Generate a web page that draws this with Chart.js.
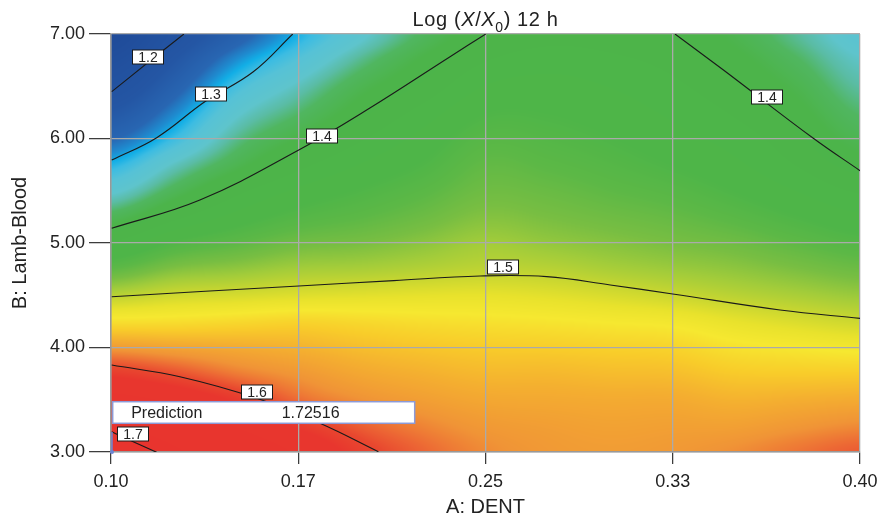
<!DOCTYPE html>
<html>
<head>
<meta charset="utf-8">
<script src="https://cdn.jsdelivr.net/npm/chart.js@4.4.1/dist/chart.umd.min.js"></script>
<style>
  html, body { margin: 0; padding: 0; background: #fff; }
  #wrap { width: 882px; height: 521px; }
</style>
</head>
<body>
<div id="wrap"><canvas id="contour"></canvas></div>
<script>
const FONT = "'Liberation Sans', Arial, Helvetica, sans-serif";

// Response grid (rows top to bottom, B = 7.00 ... 3.00)
const gridX = [0.10, 0.125, 0.15, 0.175, 0.20, 0.225, 0.25, 0.275, 0.30, 0.325, 0.35, 0.375, 0.40];
const gridY = [7.0, 6.75, 6.5, 6.25, 6.0, 5.75, 5.5, 5.25, 5.0, 4.75, 4.5, 4.25, 4.0, 3.75, 3.5, 3.25, 3.0];
const gridValues = [
  [1.110, 1.190, 1.250, 1.300, 1.340, 1.375, 1.400, 1.410, 1.408, 1.400, 1.385, 1.360, 1.335],
  [1.148, 1.220, 1.285, 1.325, 1.363, 1.392, 1.414, 1.422, 1.418, 1.410, 1.395, 1.373, 1.347],
  [1.186, 1.250, 1.315, 1.350, 1.383, 1.405, 1.428, 1.432, 1.427, 1.418, 1.404, 1.385, 1.358],
  [1.225, 1.280, 1.340, 1.370, 1.398, 1.420, 1.440, 1.440, 1.434, 1.425, 1.413, 1.395, 1.370],
  [1.263, 1.310, 1.362, 1.390, 1.413, 1.432, 1.450, 1.447, 1.441, 1.432, 1.422, 1.405, 1.382],
  [1.302, 1.348, 1.383, 1.410, 1.428, 1.442, 1.458, 1.454, 1.448, 1.440, 1.430, 1.414, 1.396],
  [1.340, 1.378, 1.410, 1.430, 1.442, 1.453, 1.465, 1.462, 1.456, 1.450, 1.440, 1.427, 1.413],
  [1.379, 1.410, 1.432, 1.447, 1.455, 1.464, 1.474, 1.470, 1.465, 1.460, 1.452, 1.441, 1.430],
  [1.417, 1.443, 1.455, 1.466, 1.470, 1.477, 1.485, 1.480, 1.475, 1.470, 1.465, 1.456, 1.447],
  [1.456, 1.473, 1.479, 1.486, 1.488, 1.492, 1.496, 1.494, 1.488, 1.483, 1.478, 1.471, 1.464],
  [1.494, 1.503, 1.506, 1.510, 1.512, 1.514, 1.515, 1.512, 1.507, 1.501, 1.494, 1.488, 1.482],
  [1.533, 1.534, 1.537, 1.540, 1.537, 1.534, 1.532, 1.530, 1.527, 1.524, 1.515, 1.508, 1.502],
  [1.571, 1.566, 1.562, 1.558, 1.552, 1.548, 1.545, 1.544, 1.542, 1.540, 1.532, 1.528, 1.524],
  [1.610, 1.598, 1.583, 1.573, 1.564, 1.559, 1.555, 1.555, 1.553, 1.552, 1.546, 1.545, 1.545],
  [1.648, 1.633, 1.612, 1.588, 1.576, 1.569, 1.564, 1.563, 1.562, 1.562, 1.558, 1.560, 1.562],
  [1.687, 1.661, 1.637, 1.612, 1.592, 1.580, 1.572, 1.569, 1.567, 1.568, 1.568, 1.573, 1.578],
  [1.725, 1.690, 1.660, 1.635, 1.607, 1.590, 1.578, 1.572, 1.570, 1.572, 1.577, 1.585, 1.593]
];

// Contour lines (A, B)
const contour12 = [{x:0.1003,y:6.448},{x:0.1148,y:6.727},{x:0.1292,y:7.0}];
const contour13 = [{x:0.1003,y:5.794},{x:0.1183,y:6.008},{x:0.1377,y:6.354},{x:0.1570,y:6.639},{x:0.1728,y:7.0}];
const contour14a = [{x:0.1003,y:5.141},{x:0.1356,y:5.411},{x:0.1752,y:5.890},{x:0.2037,y:6.292},{x:0.2358,y:6.783},{x:0.2501,y:7.0}];
const contour14b = [{x:0.3259,y:7.0},{x:0.3453,y:6.655},{x:0.3813,y:6.002},{x:0.4000,y:5.692}];
const contour15 = [{x:0.1003,y:4.486},{x:0.1752,y:4.589},{x:0.2132,y:4.640},{x:0.2478,y:4.684},{x:0.2745,y:4.678},{x:0.3000,y:4.598},{x:0.3250,y:4.512},{x:0.3680,y:4.359},{x:0.4000,y:4.279}];
const contour16 = [{x:0.1003,y:3.833},{x:0.1276,y:3.720},{x:0.1584,y:3.514},{x:0.1837,y:3.275},{x:0.2071,y:3.003}];
const contour17 = [{x:0.1003,y:3.194},{x:0.1089,y:3.098},{x:0.1183,y:2.997}];
const contourLines = [contour12, contour13, contour14a, contour14b, contour15, contour16, contour17];

const contourLabels = [
  {text:'1.2', x:0.1149, y:6.783},
  {text:'1.3', x:0.1399, y:6.423},
  {text:'1.4', x:0.1844, y:6.024},
  {text:'1.4', x:0.3628, y:6.400},
  {text:'1.5', x:0.2571, y:4.767},
  {text:'1.6', x:0.1586, y:3.571},
  {text:'1.7', x:0.1087, y:3.172}
];

const xTickValues = [0.10, 0.175, 0.25, 0.325, 0.40];
const xTickLabels = ['0.10', '0.17', '0.25', '0.33', '0.40'];
const yTickValues = [3, 4, 5, 6, 7];
const yTickLabels = ['3.00', '4.00', '5.00', '6.00', '7.00'];

const predictionPoint = {x: 0.10, y: 3.00};
const predictionValue = '1.72516';

// colour ramp
const colorStops = [
  [1.10, '#1f4a98'], [1.22, '#2456a4'], [1.265, '#2866b2'], [1.285, '#1e8cd0'],
  [1.298, '#12aee6'], [1.31, '#3cbce2'], [1.325, '#56c2d6'], [1.345, '#5ec4cc'],
  [1.358, '#5abca4'], [1.372, '#50b660'], [1.39, '#4cb44a'], [1.44, '#4eb548'],
  [1.455, '#5cb846'], [1.47, '#78be42'], [1.485, '#a2cc3a'], [1.50, '#c8d630'],
  [1.515, '#e8e22c'], [1.528, '#f6e830'], [1.545, '#f8cc2a'], [1.56, '#f4ae30'],
  [1.575, '#f09436'], [1.59, '#ec6434'], [1.60, '#e8482f'], [1.615, '#e8362e'],
  [1.80, '#e8322e']
];
const stopsRgb = colorStops.map(([v, h]) => [v, parseInt(h.slice(1,3),16), parseInt(h.slice(3,5),16), parseInt(h.slice(5,7),16)]);

function colorFor(v) {
  if (v <= stopsRgb[0][0]) return stopsRgb[0].slice(1);
  for (let k = 0; k < stopsRgb.length - 1; k++) {
    const a = stopsRgb[k], b = stopsRgb[k+1];
    if (v <= b[0]) {
      const t = (v - a[0]) / (b[0] - a[0]);
      return [a[1] + (b[1]-a[1])*t, a[2] + (b[2]-a[2])*t, a[3] + (b[3]-a[3])*t];
    }
  }
  return stopsRgb[stopsRgb.length-1].slice(1);
}

function locate(arr, v) {
  const n = arr.length;
  if (v <= arr[0]) return 0;
  if (v >= arr[n-1]) return n - 1;
  let i = 0;
  while (arr[i+1] < v) i++;
  return i + (v - arr[i]) / (arr[i+1] - arr[i]);
}
const negY = gridY.map(v => -v);

function cubic(p0, p1, p2, p3, t) {
  return p1 + 0.5 * t * (p2 - p0 + t * (2*p0 - 5*p1 + 4*p2 - p3 + t * (3*(p1 - p2) + p3 - p0)));
}
function cell(r, c) {
  r = Math.max(0, Math.min(gridY.length - 1, r));
  c = Math.max(0, Math.min(gridX.length - 1, c));
  return gridValues[r][c];
}
function sample(xv, yv) {
  const fx = locate(gridX, xv), fy = locate(negY, -yv);
  const i = Math.min(Math.floor(fx), gridX.length - 2), j = Math.min(Math.floor(fy), gridY.length - 2);
  const tx = fx - i, ty = fy - j;
  const rows = [];
  for (let r = j - 1; r <= j + 2; r++) {
    rows.push(cubic(cell(r, i-1), cell(r, i), cell(r, i+1), cell(r, i+2), tx));
  }
  return cubic(rows[0], rows[1], rows[2], rows[3], ty);
}

// colour field under the grid lines
const fieldPlugin = {
  id: 'field',
  beforeDraw(chart) {
    const {ctx, chartArea: a, scales: {x, y}} = chart;
    const w = Math.round(a.right - a.left), h = Math.round(a.bottom - a.top);
    const off = document.createElement('canvas');
    off.width = w; off.height = h;
    const octx = off.getContext('2d');
    const img = octx.createImageData(w, h);
    const xs = [];
    for (let i = 0; i < w; i++) xs.push(x.getValueForPixel(a.left + i + 0.5));
    for (let j = 0; j < h; j++) {
      const yv = y.getValueForPixel(a.top + j + 0.5);
      for (let i = 0; i < w; i++) {
        const c = colorFor(sample(xs[i], yv));
        const p = (j * w + i) * 4;
        img.data[p] = c[0]; img.data[p+1] = c[1]; img.data[p+2] = c[2]; img.data[p+3] = 255;
      }
    }
    octx.putImageData(img, 0, 0);
    ctx.drawImage(off, a.left, a.top);
  }
};

// contour labels, prediction flag, title
const overlayPlugin = {
  id: 'overlay',
  afterDraw(chart) {
    const {ctx, chartArea: a, scales: {x, y}} = chart;
    ctx.save();
    ctx.font = '14px ' + FONT;
    ctx.textAlign = 'center';
    ctx.textBaseline = 'middle';
    contourLabels.forEach(l => {
      const px = Math.round(x.getPixelForValue(l.x)), py = Math.round(y.getPixelForValue(l.y));
      ctx.fillStyle = '#fff';
      ctx.fillRect(px - 15.5, py - 7, 31, 14);
      ctx.strokeStyle = '#1a1a1a';
      ctx.lineWidth = 1;
      ctx.strokeRect(px - 15.5, py - 7, 31, 14);
      ctx.fillStyle = '#222';
      ctx.fillText(l.text, px, py + 1);
    });

    // prediction flag
    const fx = x.getPixelForValue(predictionPoint.x), fy = y.getPixelForValue(predictionPoint.y);
    ctx.strokeStyle = '#6c84d4';
    ctx.lineWidth = 1.5;
    ctx.beginPath();
    ctx.moveTo(fx + 1, fy);
    ctx.lineTo(fx + 1, fy - 20);
    ctx.stroke();
    ctx.fillStyle = '#6c84d4';
    ctx.beginPath();
    ctx.arc(fx + 1, fy, 2, 0, Math.PI * 2);
    ctx.fill();

    const bx = fx + 1.7, by = fy - 50.3;
    ctx.fillStyle = '#fff';
    ctx.fillRect(bx, by, 302, 21.6);
    ctx.strokeStyle = '#8c9ad8';
    ctx.lineWidth = 1.5;
    ctx.strokeRect(bx, by, 302, 21.6);
    ctx.fillStyle = '#222';
    ctx.font = '16px ' + FONT;
    ctx.textAlign = 'left';
    ctx.fillText('Prediction', bx + 18.5, by + 11.5);
    ctx.fillText(predictionValue, bx + 169, by + 11.5);

    // title: Log (X/X0) 12 h
    const parts = [
      {t: 'Log (', f: '20px ' + FONT, dy: 0},
      {t: 'X', f: 'italic 20px ' + FONT, dy: 0},
      {t: '/', f: '20px ' + FONT, dy: 0},
      {t: 'X', f: 'italic 20px ' + FONT, dy: 0},
      {t: '0', f: '14px ' + FONT, dy: 6},
      {t: ') 12 h', f: '20px ' + FONT, dy: 0}
    ];
    ctx.textBaseline = 'alphabetic';
    if ('letterSpacing' in ctx) ctx.letterSpacing = '0.6px';
    let total = 0;
    parts.forEach(p => { ctx.font = p.f; p.w = ctx.measureText(p.t).width; total += p.w; });
    let cx = (a.left + a.right) / 2 - total / 2;
    parts.forEach(p => {
      ctx.font = p.f;
      ctx.fillText(p.t, cx, 26 + p.dy);
      cx += p.w;
    });
    ctx.restore();
  }
};

new Chart(document.getElementById('contour'), {
  type: 'scatter',
  data: {
    datasets: contourLines.map(line => ({
      data: line,
      showLine: true,
      borderColor: '#1a1a1a',
      borderWidth: 1.1,
      pointRadius: 0,
      pointHoverRadius: 0,
      tension: 0.4,
      fill: false
    }))
  },
  options: {
    responsive: true,
    maintainAspectRatio: false,
    animation: false,
    events: [],
    layout: { padding: { top: 34, right: 22, bottom: 0, left: 0 } },
    plugins: {
      legend: { display: false },
      tooltip: { enabled: false },
      title: { display: false }
    },
    scales: {
      x: {
        type: 'linear',
        min: 0.1,
        max: 0.4,
        afterBuildTicks: s => { s.ticks = xTickValues.map(v => ({value: v})); },
        afterFit: s => { s.height = 69; s.paddingLeft = 0; s.paddingRight = 0; },
        ticks: {
          callback: (v, i) => xTickLabels[i],
          color: '#222',
          font: { family: FONT, size: 18 },
          padding: 7,
          maxRotation: 0,
          autoSkip: false
        },
        grid: { color: '#aaaaaa', lineWidth: 1.3, tickColor: '#333', tickLength: 12, tickWidth: 1.2 },
        border: { color: '#999999', width: 1.5 },
        title: { display: true, text: 'A: DENT', color: '#222', font: { family: FONT, size: 20 }, padding: { top: 0, bottom: 2 } }
      },
      y: {
        type: 'linear',
        min: 3,
        max: 7,
        afterBuildTicks: s => { s.ticks = yTickValues.map(v => ({value: v})); },
        afterFit: s => { s.width = 111; s.paddingTop = 0; s.paddingBottom = 0; },
        ticks: {
          callback: (v, i) => yTickLabels[i],
          color: '#222',
          font: { family: FONT, size: 18 },
          padding: 4,
          autoSkip: false
        },
        grid: { color: '#aaaaaa', lineWidth: 1.3, tickColor: '#333', tickLength: 22, tickWidth: 1.2 },
        border: { color: '#999999', width: 1.5 },
        title: { display: true, text: 'B: Lamb-Blood', color: '#222', font: { family: FONT, size: 20 }, padding: { top: 8, bottom: 0 } }
      }
    }
  },
  plugins: [fieldPlugin, overlayPlugin]
});
</script>
</body>
</html>
